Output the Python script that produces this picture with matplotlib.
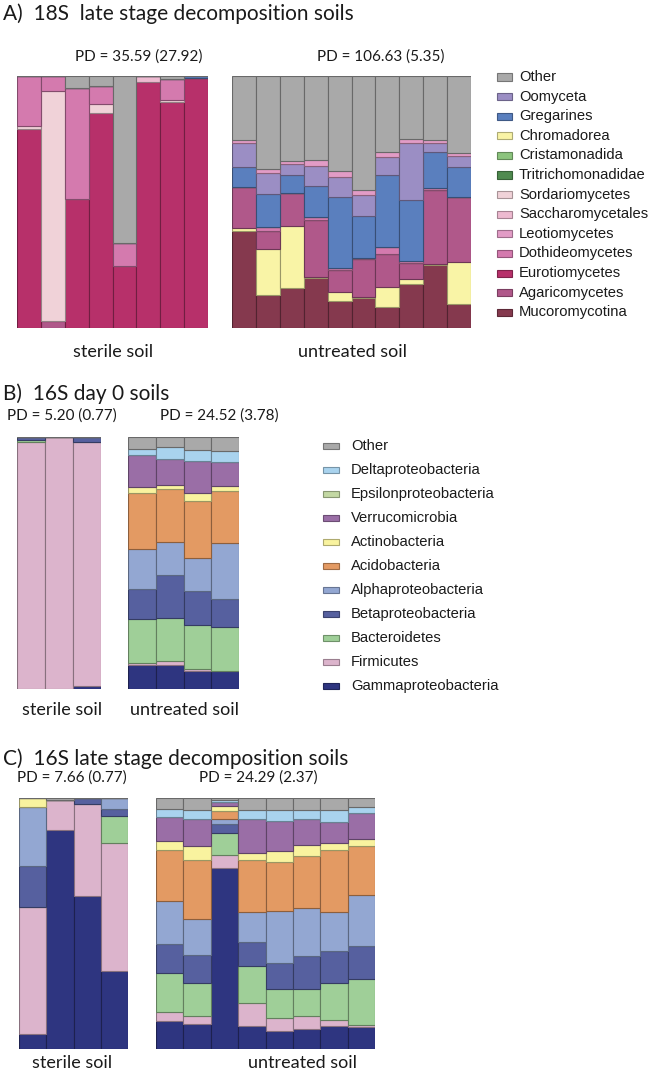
import numpy as np
import matplotlib
matplotlib.use("Agg")
import matplotlib.pyplot as plt
from matplotlib.colors import to_rgb
from matplotlib.patches import Rectangle

# ---------------- Panel A data (8 sterile + 10 untreated samples) ----------------
A_N_STERILE = 8
A_TAXA = ["Other", "Oomyceta", "Gregarines", "Chromadorea", "Cristamonadida",
          "Tritrichomonadidae", "Sordariomycetes", "Saccharomycetales", "Leotiomycetes",
          "Dothideomycetes", "Eurotiomycetes", "Agaricomycetes", "Mucoromycotina"]
A_COLORS = ["#a9a9a9", "#9b8ec4", "#5a7fbe", "#f9f4a6", "#8cc47e",
            "#4f8a4f", "#f0d2d8", "#edbad0", "#e29cc6",
            "#d47aae", "#b7306a", "#b0588a", "#85394e"]

A_other        = [0, 0, 0.048, 0.04, 0.663, 0, 0.012, 0,
                  0.254, 0.369, 0.337, 0.333, 0.377, 0.452, 0.302, 0.25, 0.254, 0.306]
A_oomyceta     = [0, 0, 0, 0, 0, 0, 0, 0,
                  0.095, 0.083, 0.044, 0.079, 0.079, 0.083, 0.071, 0.226, 0.036, 0.044]
A_gregarines   = [0, 0, 0, 0, 0, 0, 0, 0.008,
                  0.079, 0.131, 0.071, 0.123, 0.282, 0.167, 0.286, 0.242, 0.143, 0.119]
A_chromadorea  = [0, 0, 0, 0, 0, 0, 0, 0,
                  0.012, 0.183, 0.246, 0.004, 0.036, 0.004, 0.079, 0.02, 0.004, 0.167]
A_cristamonadida = [0] * 18
A_tritrichomonadidae = [0] * 18
A_sordariomycetes = [0.012, 0.913, 0, 0.036, 0, 0, 0.008, 0,
                     0, 0, 0, 0, 0, 0, 0, 0, 0, 0]
A_saccharomycetales = [0, 0, 0, 0, 0, 0.025, 0, 0,
                       0, 0, 0, 0, 0, 0, 0, 0, 0, 0]
A_leotiomycetes = [0, 0, 0, 0, 0, 0, 0, 0,
                   0.012, 0.016, 0.012, 0.024, 0.024, 0.02, 0.02, 0.016, 0.012, 0.012]
A_dothideomycetes = [0.198, 0.06, 0.44, 0.071, 0.091, 0, 0.083, 0,
                     0, 0.016, 0, 0.012, 0.008, 0.004, 0.028, 0.008, 0.008, 0]
A_eurotiomycetes = [0.79, 0, 0.512, 0.853, 0.246, 0.975, 0.897, 0.992,
                    0, 0, 0, 0, 0, 0, 0, 0, 0, 0]
A_agaricomycetes = [0, 0.027, 0, 0, 0, 0, 0, 0,
                    0.163, 0.071, 0.131, 0.226, 0.087, 0.151, 0.131, 0.063, 0.294, 0.258]
A_mucoromycotina = [0, 0, 0, 0, 0, 0, 0, 0,
                    0.385, 0.131, 0.159, 0.198, 0.107, 0.119, 0.083, 0.175, 0.25, 0.095]

A_DATA = {"Other": A_other, "Oomyceta": A_oomyceta, "Gregarines": A_gregarines,
          "Chromadorea": A_chromadorea, "Cristamonadida": A_cristamonadida,
          "Tritrichomonadidae": A_tritrichomonadidae, "Sordariomycetes": A_sordariomycetes,
          "Saccharomycetales": A_saccharomycetales, "Leotiomycetes": A_leotiomycetes,
          "Dothideomycetes": A_dothideomycetes, "Eurotiomycetes": A_eurotiomycetes,
          "Agaricomycetes": A_agaricomycetes, "Mucoromycotina": A_mucoromycotina}
# bottom-up stacking order
A_STACK = ["Mucoromycotina", "Chromadorea", "Agaricomycetes", "Eurotiomycetes",
           "Saccharomycetales", "Sordariomycetes", "Dothideomycetes", "Tritrichomonadidae",
           "Cristamonadida", "Gregarines", "Oomyceta", "Leotiomycetes", "Other"]

# ---------------- 16S taxa ----------------
B_TAXA = ["Other", "Deltaproteobacteria", "Epsilonproteobacteria", "Verrucomicrobia",
          "Actinobacteria", "Acidobacteria", "Alphaproteobacteria", "Betaproteobacteria",
          "Bacteroidetes", "Firmicutes", "Gammaproteobacteria"]
B_COLORS = ["#a9a9a9", "#a9d3ee", "#c3d8a3", "#9a6ea6", "#f9f39f", "#e39a63",
            "#93a7d2", "#56609f", "#9fcf98", "#dcb4cc", "#2e3580"]
B_STACK = ["Gammaproteobacteria", "Firmicutes", "Bacteroidetes", "Betaproteobacteria",
           "Alphaproteobacteria", "Acidobacteria", "Actinobacteria", "Verrucomicrobia",
           "Epsilonproteobacteria", "Deltaproteobacteria", "Other"]

# ---------------- Panel B data (3 sterile + 4 untreated) ----------------
B_N_STERILE = 3
B_other   = [0, 0, 0, 0.049, 0.04, 0.053, 0.057]
B_delta   = [0, 0, 0, 0.021, 0.046, 0.04, 0.042]
B_epsilon = [0, 0, 0, 0, 0, 0, 0]
B_verruco = [0, 0, 0, 0.128, 0.103, 0.13, 0.093]
B_actino  = [0, 0, 0, 0.023, 0.016, 0.029, 0.022]
B_acido   = [0, 0, 0, 0.222, 0.209, 0.225, 0.206]
B_alpha   = [0, 0, 0, 0.159, 0.132, 0.132, 0.218]
B_beta    = [0.013, 0, 0.018, 0.116, 0.168, 0.136, 0.112]
B_bactero = [0.007, 0, 0, 0.177, 0.172, 0.172, 0.172]
B_firmi   = [0.98, 1.0, 0.972, 0.008, 0.016, 0.009, 0]
B_gamma   = [0, 0, 0.01, 0.093, 0.094, 0.07, 0.073]

# ---------------- Panel C data (4 sterile + 8 untreated) ----------------
C_N_STERILE = 4
C_other   = [0, 0.009, 0, 0, 0.044, 0.049, 0.007, 0.046, 0.046, 0.046, 0.046, 0.037]
C_delta   = [0, 0, 0, 0, 0.032, 0.035, 0.009, 0.037, 0.044, 0.037, 0.05, 0.023]
C_epsilon = [0] * 12
C_verruco = [0, 0, 0, 0, 0.094, 0.109, 0.017, 0.135, 0.12, 0.104, 0.082, 0.104]
C_actino  = [0.037, 0, 0, 0, 0.036, 0.053, 0.017, 0.029, 0.046, 0.045, 0.029, 0.029]
C_acido   = [0, 0, 0, 0, 0.206, 0.236, 0.032, 0.207, 0.195, 0.206, 0.246, 0.195]
C_alpha   = [0.232, 0, 0, 0.044, 0.169, 0.143, 0.02, 0.118, 0.206, 0.19, 0.157, 0.2]
C_beta    = [0.165, 0, 0.023, 0.027, 0.117, 0.112, 0.037, 0.094, 0.104, 0.133, 0.126, 0.133]
C_bactero = [0, 0, 0, 0.109, 0.157, 0.133, 0.086, 0.149, 0.116, 0.109, 0.146, 0.183]
C_firmi   = [0.505, 0.12, 0.369, 0.509, 0.036, 0.029, 0.053, 0.09, 0.053, 0.05, 0.024, 0.008]
C_gamma   = [0.061, 0.871, 0.608, 0.312, 0.11, 0.101, 0.721, 0.093, 0.07, 0.08, 0.093, 0.088]


def b_dict(o, d, e, v, ac, ad, al, be, ba, fi, ga):
    return {"Other": o, "Deltaproteobacteria": d, "Epsilonproteobacteria": e,
            "Verrucomicrobia": v, "Actinobacteria": ac, "Acidobacteria": ad,
            "Alphaproteobacteria": al, "Betaproteobacteria": be, "Bacteroidetes": ba,
            "Firmicutes": fi, "Gammaproteobacteria": ga}


B_DATA = b_dict(B_other, B_delta, B_epsilon, B_verruco, B_actino, B_acido, B_alpha,
                B_beta, B_bactero, B_firmi, B_gamma)
C_DATA = b_dict(C_other, C_delta, C_epsilon, C_verruco, C_actino, C_acido, C_alpha,
                C_beta, C_bactero, C_firmi, C_gamma)

# ---------------- figure ----------------
W, H = 650, 1079
fig = plt.figure(figsize=(W / 100, H / 100), dpi=100)
MAIN_FONT = ["Lato", "DejaVu Sans"]
LEG_FONT = ["Liberation Sans", "DejaVu Sans"]


def px_axes(x0, x1, y0, y1):
    ax = fig.add_axes([x0 / W, 1 - y1 / H, (x1 - x0) / W, (y1 - y0) / H])
    ax.set_axis_off()
    return ax


def ftext(x, y, s, size, ha="left", family=MAIN_FONT):
    fig.text(x / W, 1 - y / H, s, fontsize=size, ha=ha, va="center",
             family=family, color="#1a1a1a")


def darker(c, f=0.62):
    r, g, b = to_rgb(c)
    return (r * f, g * f, b * f)


def stacked(ax, data, stack, taxa, colors, idx):
    cmap = dict(zip(taxa, colors))
    cols = np.array([[data[t][i] for i in idx] for t in stack], dtype=float)
    totals = cols.sum(axis=0)
    cols = cols / totals
    x = np.arange(len(idx))
    bottom = np.zeros(len(idx))
    for t, vals in zip(stack, cols):
        ax.bar(x, vals, bottom=bottom, width=1.0, color=cmap[t],
               edgecolor=darker(cmap[t]), linewidth=0.8)
        bottom += vals
    ax.set_xlim(-0.5, len(idx) - 0.5)
    ax.set_ylim(0, 1)


def legend(x_patch, y0, dy, taxa, colors, size, pw=15, ph=7, gap=7):
    for i, (t, c) in enumerate(zip(taxa, colors)):
        y = y0 + i * dy
        fig.patches.append(Rectangle((x_patch / W, 1 - (y + ph / 2) / H), pw / W, ph / H,
                                     transform=fig.transFigure, facecolor=c,
                                     edgecolor=darker(c, 0.7), linewidth=0.8))
        ftext(x_patch + pw + gap, y, t, size, family=LEG_FONT)


# Panel A
ftext(3, 14, "A)  18S  late stage decomposition soils", 15)
nA = len(A_other)
axA1 = px_axes(17, 208, 76, 328)
stacked(axA1, A_DATA, A_STACK, A_TAXA, A_COLORS, range(0, A_N_STERILE))
axA2 = px_axes(232, 471, 76, 328)
stacked(axA2, A_DATA, A_STACK, A_TAXA, A_COLORS, range(A_N_STERILE, nA))
ftext(139, 57, "PD = 35.59 (27.92)", 11, ha="center")
ftext(381, 57, "PD = 106.63 (5.35)", 11, ha="center")
ftext(113, 352, "sterile soil", 13, ha="center")
ftext(352, 352, "untreated soil", 13, ha="center")
legend(497, 77, 19.6, A_TAXA, A_COLORS, 10.6)

# Panel B
ftext(3, 394, "B)  16S day 0 soils", 15)
nB = len(B_other)
axB1 = px_axes(17, 101, 437, 689)
stacked(axB1, B_DATA, B_STACK, B_TAXA, B_COLORS, range(0, B_N_STERILE))
axB2 = px_axes(128, 239, 437, 689)
stacked(axB2, B_DATA, B_STACK, B_TAXA, B_COLORS, range(B_N_STERILE, nB))
ftext(62, 416, "PD = 5.20 (0.77)", 11, ha="center")
ftext(219, 416, "PD = 24.52 (3.78)", 11, ha="center")
ftext(62, 710, "sterile soil", 13, ha="center")
ftext(185, 710, "untreated soil", 13, ha="center")
legend(323, 446, 24, B_TAXA, B_COLORS, 10.6, pw=16, ph=6, gap=12)

# Panel C
ftext(3, 759, "C)  16S late stage decomposition soils", 15)
nC = len(C_other)
axC1 = px_axes(19, 128, 798, 1049)
stacked(axC1, C_DATA, B_STACK, B_TAXA, B_COLORS, range(0, C_N_STERILE))
axC2 = px_axes(156, 375, 798, 1049)
stacked(axC2, C_DATA, B_STACK, B_TAXA, B_COLORS, range(C_N_STERILE, nC))
ftext(72, 778, "PD = 7.66 (0.77)", 11, ha="center")
ftext(258, 778, "PD = 24.29 (2.37)", 11, ha="center")
ftext(72, 1063, "sterile soil", 13, ha="center")
ftext(303, 1063, "untreated soil", 13, ha="center")

fig.savefig("out.png", dpi=100)
